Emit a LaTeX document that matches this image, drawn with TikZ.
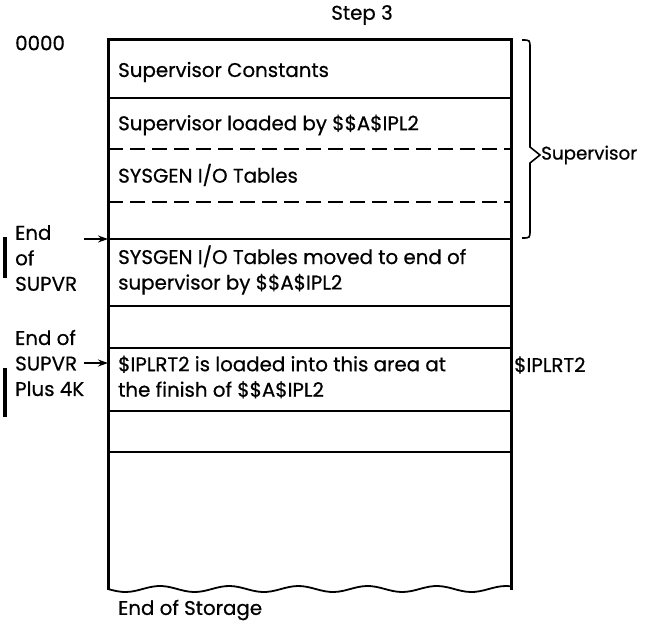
\documentclass[tikz,border=0pt]{standalone}
\usepackage{fontspec}
\setmainfont{Poppins}[FakeBold=0.6]
\usetikzlibrary{arrows.meta,positioning}

\begin{document}
\begin{tikzpicture}[
  x=1pt, y=-1pt,
  every node/.style={font=\fontsize{19.8}{25.5}\selectfont, inner sep=0pt},
  memtext/.style={anchor=west, align=left},
  outer/.style={line width=3pt},
  band/.style={line width=1.6pt},
  split/.style={line width=1.6pt, dash pattern=on 15pt off 7pt},
  marker/.style={line width=3.8pt},
  pointer/.style={line width=1.5pt, -{Stealth[length=10pt,width=7pt]}}
]
\useasboundingbox (0,0) rectangle (647,626);

% storage map
\draw[outer] (108,590) -- (108,40) -- (511,40) -- (511,590);
\draw[line width=1.8pt] plot[domain=108:511, samples=90] (\x, {589 + 3*sin(5.2*(\x-108))});

\draw[band] (108,98) -- (511,98);
\draw[split] (108,149) -- (511,149);
\draw[split] (108,202) -- (511,202);
\draw[band] (108,239) -- (511,239);
\draw[band] (108,306) -- (511,306);
\draw[band] (108,348) -- (511,348);
\draw[band] (108,411) -- (511,411);
\draw[band] (108,452) -- (511,452);

\node (step) at (362,15) {Step 3};
\node[memtext] (zero) at (15,43) {0000};

\node[memtext] (consts) at (118,72) {Supervisor Constants};
\node[memtext] (loaded) at (118,125) {Supervisor loaded by \$\$A\$IPL2};
\node[memtext] (tables) at (118,175) {SYSGEN I/O Tables};
\node[memtext] (moved) at (118,270) {SYSGEN I/O Tables moved to end of\\supervisor by \$\$A\$IPL2};
\node[memtext] (iplarea) at (118,377) {\$IPLRT2 is loaded into this area at\\the finish of \$\$A\$IPL2};
\node[memtext] (storend) at (118,610) {End of Storage};

% supervisor brace
\draw[band] (522,40) .. controls (530,40) .. (530,48) -- (530,147) -- (540,155)
  -- (530,163) -- (530,230) .. controls (530,238) .. (522,238);
\node[memtext, font=\fontsize{18.3}{22}\selectfont] (supv) at (541,155) {Supervisor};
\node[memtext] (iplrt) at (514,365) {\$IPLRT2};

% left side markers
\node[memtext] (endsup) at (15,258) {End\\of\\SUPVR};
\node[memtext] (endplus) at (15,363) {End of\\SUPVR\\Plus 4K};
\draw[marker] (5,237) -- (5,278);
\draw[marker] (5,368) -- (5,417);

\coordinate (supfrom) at (84,239);
\coordinate (supto) at (108,239);
\coordinate (plusfrom) at (84,363);
\coordinate (plusto) at (108,363);
\draw[pointer] (supfrom) -- (supto);
\draw[pointer] (plusfrom) -- (plusto);

\end{tikzpicture}
\end{document}
